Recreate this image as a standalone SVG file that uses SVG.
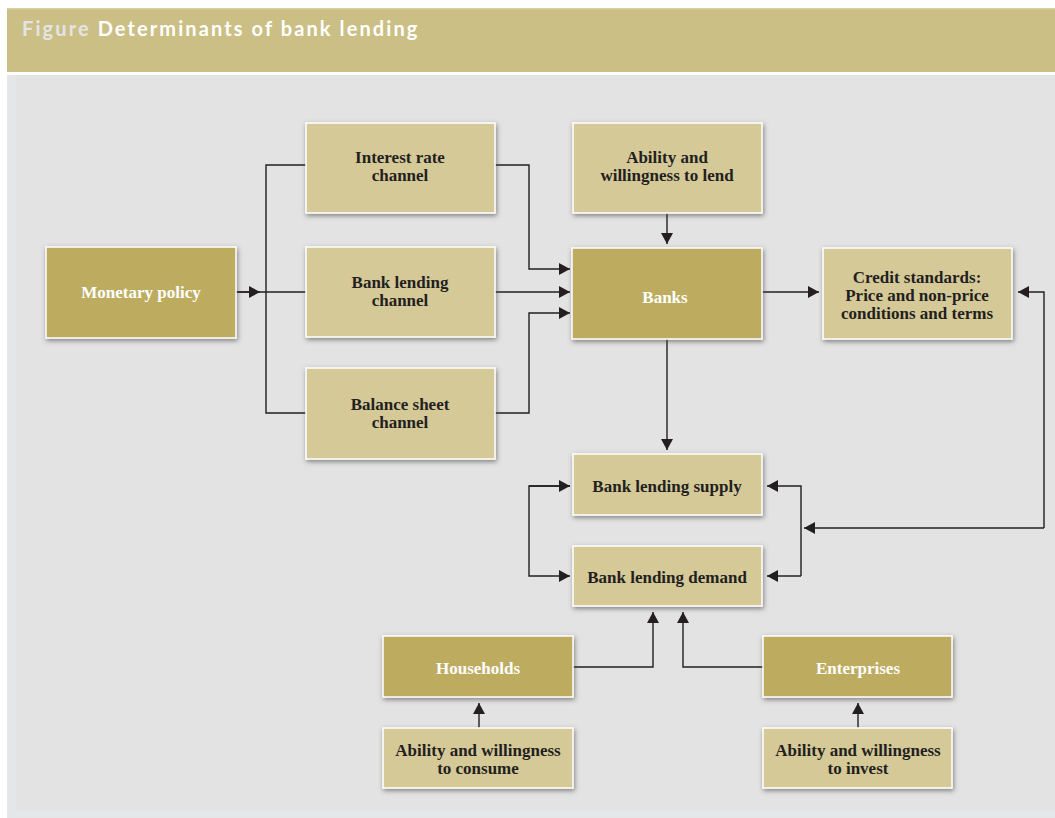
<svg xmlns="http://www.w3.org/2000/svg" width="1055" height="818" viewBox="0 0 1055 818">
<defs>
<filter id="sh" x="-20%" y="-30%" width="140%" height="160%">
<feDropShadow dx="1" dy="2" stdDeviation="2.5" flood-color="#4a4a4a" flood-opacity="0.65"/>
</filter>
<marker id="ah" viewBox="0 0 11 12" refX="11" refY="6" markerWidth="11" markerHeight="12" markerUnits="userSpaceOnUse" orient="auto">
<path d="M0,0 L11,6 L0,12 z" fill="#231f20"/>
</marker>
</defs>
<style>
.box{stroke:#ffffff;stroke-width:1.5;filter:url(#sh)}
.lt{fill:#d5c998}
.dk{fill:#bdac60}
.t{font-family:"Liberation Serif","Times New Roman",serif;font-weight:bold;font-size:17px;text-anchor:middle;fill:#231f20}
.w{fill:#ffffff}
.c{fill:none;stroke:#231f20;stroke-width:1.4}
</style>
<rect x="0" y="0" width="1055" height="818" fill="#ffffff"/>
<rect x="7" y="75" width="1048" height="743" fill="#e5e6e7"/>
<rect x="16" y="75" width="1039" height="735" fill="#e3e3e3"/>
<rect x="7" y="8" width="1048" height="64" fill="#cbbf85"/>
<rect x="7" y="8" width="1048" height="1.5" fill="#d9cfa0"/>
<text x="22" y="36" font-family="Lato,'Open Sans',sans-serif" font-weight="bold" font-size="20" letter-spacing="1.6" fill="#ffffff" textLength="397" lengthAdjust="spacing"><tspan fill="#e4e4e4">Figure</tspan> Determinants of bank lending</text>

<g id="connectors">
<path class="c" d="M236,292 L306,292"/>
<path class="c" d="M236,292 L260,292" marker-end="url(#ah)"/>
<path class="c" d="M306,165 L266,165 L266,413 L306,413"/>
<path class="c" d="M495,165 L529,165 L529,269 L570,269" marker-end="url(#ah)"/>
<path class="c" d="M495,292 L570,292" marker-end="url(#ah)"/>
<path class="c" d="M495,413 L529,413 L529,313 L570,313" marker-end="url(#ah)"/>
<path class="c" d="M667,213 L667,244" marker-end="url(#ah)"/>
<path class="c" d="M762,292 L819,292" marker-end="url(#ah)"/>
<path class="c" d="M667,339 L667,450" marker-end="url(#ah)"/>
<path class="c" d="M1044,528 L1044,292 L1018,292" marker-end="url(#ah)"/>
<path class="c" d="M1044,528 L804,528" marker-end="url(#ah)"/>
<path class="c" d="M801,576 L801,486 L767,486" marker-end="url(#ah)"/>
<path class="c" d="M801,576 L767,576" marker-end="url(#ah)"/>
<path class="c" d="M570,486 L529,486 L529,576 L570,576" marker-end="url(#ah)"/>
<path class="c" d="M529,486 L570,486" marker-end="url(#ah)"/>
<path class="c" d="M573,667 L653,667 L653,612" marker-end="url(#ah)"/>
<path class="c" d="M763,667 L683,667 L683,612" marker-end="url(#ah)"/>
<path class="c" d="M479,728 L479,703" marker-end="url(#ah)"/>
<path class="c" d="M858,728 L858,703" marker-end="url(#ah)"/>
</g>

<g id="monetary-policy"><rect class="box dk" x="46" y="247" width="190" height="91"/><text class="t w" x="141" y="298">Monetary policy</text></g>
<g id="interest-rate-channel"><rect class="box lt" x="306" y="123" width="189" height="90"/><text class="t" x="400" y="163">Interest rate</text><text class="t" x="400" y="181">channel</text></g>
<g id="bank-lending-channel"><rect class="box lt" x="306" y="247" width="189" height="90"/><text class="t" x="400" y="288">Bank lending</text><text class="t" x="400" y="306">channel</text></g>
<g id="balance-sheet-channel"><rect class="box lt" x="306" y="368" width="189" height="91"/><text class="t" x="400" y="410">Balance sheet</text><text class="t" x="400" y="428">channel</text></g>
<g id="ability-lend"><rect class="box lt" x="573" y="123" width="189" height="90"/><text class="t" x="667" y="163">Ability and</text><text class="t" x="667" y="181">willingness to lend</text></g>
<g id="banks"><rect class="box dk" x="572" y="248" width="190" height="91"/><text class="t w" x="665" y="303">Banks</text></g>
<g id="credit-standards"><rect class="box lt" x="823" y="248" width="189" height="91"/><text class="t" x="917" y="283">Credit standards:</text><text class="t" x="917" y="301">Price and non-price</text><text class="t" x="917" y="319">conditions and terms</text></g>
<g id="bank-lending-supply"><rect class="box lt" x="573" y="454" width="189" height="61"/><text class="t" x="667" y="492">Bank lending supply</text></g>
<g id="bank-lending-demand"><rect class="box lt" x="573" y="546" width="189" height="60"/><text class="t" x="667" y="583">Bank lending demand</text></g>
<g id="households"><rect class="box dk" x="383" y="636" width="190" height="61"/><text class="t w" x="478" y="674">Households</text></g>
<g id="enterprises"><rect class="box dk" x="763" y="636" width="189" height="61"/><text class="t w" x="858" y="674">Enterprises</text></g>
<g id="ability-consume"><rect class="box lt" x="383" y="728" width="190" height="60"/><text class="t" x="478" y="756">Ability and willingness</text><text class="t" x="478" y="774">to consume</text></g>
<g id="ability-invest"><rect class="box lt" x="763" y="728" width="189" height="60"/><text class="t" x="858" y="756">Ability and willingness</text><text class="t" x="858" y="774">to invest</text></g>
</svg>
